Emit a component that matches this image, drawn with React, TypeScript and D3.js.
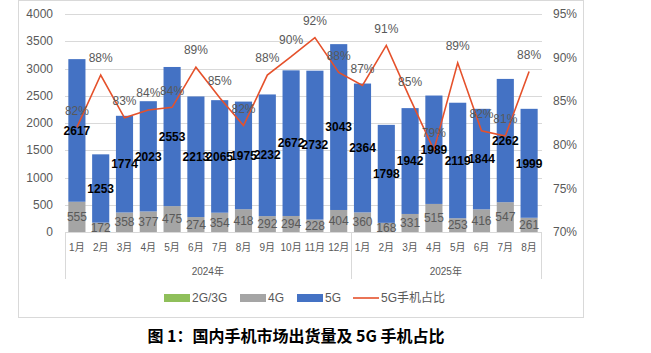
import React from "react";
import * as d3 from "d3";

const months2024 = ["1月","2月","3月","4月","5月","6月","7月","8月","9月","10月","11月","12月"];
const months2025 = ["1月","2月","3月","4月","5月","6月","7月","8月"];
const years = ["2024年", "2025年"];
const g23 = [0,0,0,0,0,0,0,0,0,0,0,0,0,0,0,0,0,0,0,0];
const g4 = [555,172,358,377,475,274,354,418,292,294,228,404,360,168,331,515,253,416,547,261];
const g5 = [2617,1253,1774,2023,2553,2213,2065,1975,2232,2672,2732,3043,2364,1798,1942,1989,2119,1844,2262,1999];
const share = [82,88,83.1,84,84.3,88.9,85.4,82.2,88,90.1,92.3,88.3,86.8,91.4,85.3,79.4,89.4,81.6,81,88.4];
const leftTicks = [0,500,1000,1500,2000,2500,3000,3500,4000];
const rightTicks = [70,75,80,85,90,95];
const legendItems = ["2G/3G", "4G", "5G", "5G手机占比"];
const title = "图 1：国内手机市场出货量及 5G 手机占比";

const FONT = "'Liberation Sans', 'Noto Sans CJK SC', sans-serif";
const GRAY_TXT = "#595959";

export default function App() {
  const W = 651, H = 353;
  const months = [...months2024, ...months2025];
  const idx = months.map((_, i) => i);
  const x = d3.scaleBand<number>().domain(idx).range([65, 541]).paddingInner(0.28).paddingOuter(0.14);
  const yL = d3.scaleLinear().domain([0, 4000]).range([232, 14]);
  const yR = d3.scaleLinear().domain([70, 95]).range([232, 14]);
  const cx = (i: number) => (x(i) as number) + x.bandwidth() / 2;
  const line = d3.line<number>().x((_, i) => cx(i)).y((d) => yR(d));

  const y2024a = x(0) as number - x.step() * x.paddingOuter();
  const sep1 = 65, sep2 = 65 + x.step() * 12, sep3 = 541;

  return (
    <svg width={W} height={H} style={{ position: "absolute", left: 0, top: 0, background: "#fff" }} fontFamily={FONT}>
      <rect x={0} y={0} width={W} height={H} fill="#fff" />
      <rect x={18.5} y={0.5} width={565} height={317} fill="none" stroke="#d9d9d9" strokeWidth={1} />
      {/* grid */}
      {leftTicks.map((t) => (
        <line key={t} x1={65} x2={542} y1={Math.round(yL(t)) + 0.5} y2={Math.round(yL(t)) + 0.5} stroke="#d9d9d9" strokeWidth={1} />
      ))}
      {/* left ticks */}
      {leftTicks.map((t) => (
        <text key={t} x={53} y={yL(t)} dy="0.35em" textAnchor="end" fontSize={12} fill={GRAY_TXT}>{t}</text>
      ))}
      {rightTicks.map((t) => (
        <text key={t} x={553} y={yR(t)} dy="0.35em" textAnchor="start" fontSize={12} fill={GRAY_TXT}>{t}%</text>
      ))}
      {/* bars */}
      {idx.map((i) => {
        const b0 = yL(g23[i]);
        const b1 = yL(g23[i] + g4[i]);
        const b2 = yL(g23[i] + g4[i] + g5[i]);
        return (
          <g key={i}>
            <rect x={x(i)} width={x.bandwidth()} y={b0} height={yL(0) - b0} fill="#8fbf5a" />
            <rect x={x(i)} width={x.bandwidth()} y={b1} height={b0 - b1} fill="#a5a5a5" />
            <rect x={x(i)} width={x.bandwidth()} y={b2} height={b1 - b2} fill="#4472c4" />
          </g>
        );
      })}
      {/* axis */}
      <line x1={65} x2={541} y1={232.5} y2={232.5} stroke="#d9d9d9" />
      {[sep1, sep2, sep3].map((s, k) => (
        <line key={k} x1={Math.round(s) + 0.5} x2={Math.round(s) + 0.5} y1={232} y2={279} stroke="#d9d9d9" />
      ))}
      {months.map((m, i) => (
        <text key={i} x={cx(i)} y={247} dy="0.35em" textAnchor="middle" fontSize={10} fill={GRAY_TXT}>{m}</text>
      ))}
      <text x={(sep1 + sep2) / 2} y={271} dy="0.35em" textAnchor="middle" fontSize={10} fill={GRAY_TXT}>{years[0]}</text>
      <text x={(sep2 + sep3) / 2} y={271} dy="0.35em" textAnchor="middle" fontSize={10} fill={GRAY_TXT}>{years[1]}</text>
      {/* 4G labels */}
      {idx.map((i) => (
        <text key={i} x={cx(i)} y={yL(g23[i] + g4[i] / 2)} dy="0.35em" textAnchor="middle" fontSize={12} fill={GRAY_TXT}>{g4[i]}</text>
      ))}
      {/* line */}
      <path d={line(share) as string} fill="none" stroke="#e5512b" strokeWidth={1.6} />
      {/* 5G labels */}
      {idx.map((i) => (
        <text key={i} x={cx(i)} y={yL(g23[i] + g4[i] + g5[i] / 2)} dy="0.35em" textAnchor="middle" fontSize={12} fontWeight="bold" fill="#000">{g5[i]}</text>
      ))}
      {/* share labels */}
      {idx.map((i) => (
        <text key={i} x={cx(i)} y={yR(share[i]) - 17} dy="0.35em" textAnchor="middle" fontSize={12} fill={GRAY_TXT}>{Math.round(share[i])}%</text>
      ))}
      {/* legend */}
      <g fontSize={12} fill={GRAY_TXT}>
        <rect x={164} y={294} width={26} height={8} fill="#8fbf5a" />
        <text x={192} y={298} dy="0.35em">{legendItems[0]}</text>
        <rect x={240} y={294} width={26} height={8} fill="#a5a5a5" />
        <text x={268} y={298} dy="0.35em">{legendItems[1]}</text>
        <rect x={297} y={294} width={26} height={8} fill="#4472c4" />
        <text x={325} y={298} dy="0.35em">{legendItems[2]}</text>
        <line x1={353} x2={379} y1={298} y2={298} stroke="#e5512b" strokeWidth={1.6} />
        <text x={381} y={298} dy="0.35em">{legendItems[3]}</text>
      </g>
      <text x={296} y={336} dy="0.35em" textAnchor="middle" fontSize={16} fontWeight="bold" fill="#000" fontFamily="'Noto Sans CJK SC', sans-serif">{title}</text>
    </svg>
  );
}
